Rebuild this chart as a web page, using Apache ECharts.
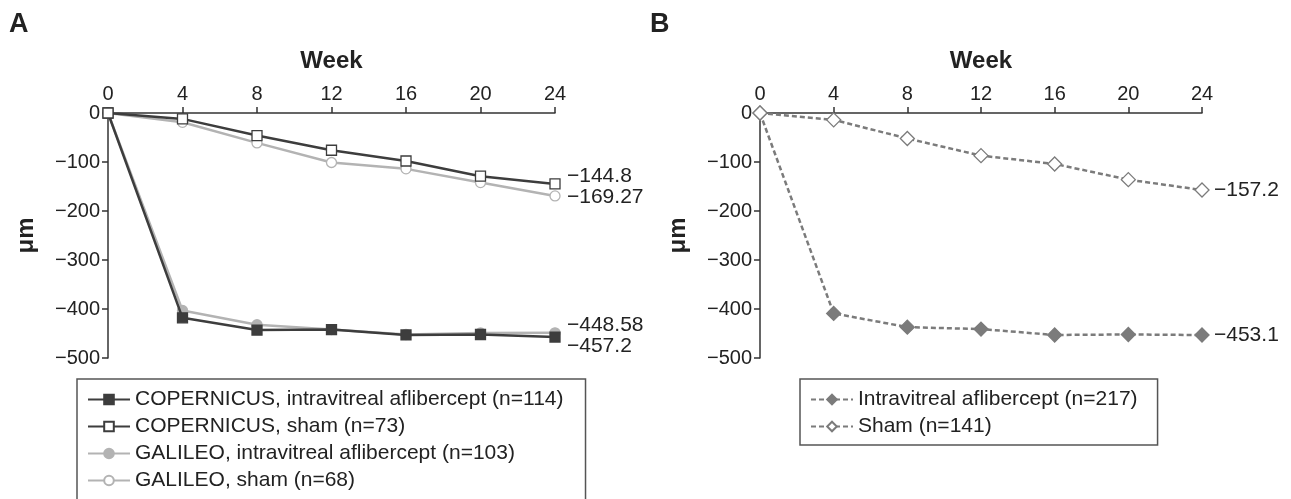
<!DOCTYPE html>
<html>
<head>
<meta charset="utf-8">
<script src="https://cdn.jsdelivr.net/npm/echarts@6/dist/echarts.min.js"></script>
<style>
html,body{margin:0;padding:0;background:#fff;}
#chart{width:1291px;height:499px;}
</style>
</head>
<body>
<div id="chart"></div>
<script>
// ---- data ----
const weeks = [0, 4, 8, 12, 16, 20, 24];
const xTicks = [0, 4, 8, 12, 16, 20, 24];
const yTicks = [0, -100, -200, -300, -400, -500];

const copAflibName = 'COPERNICUS, intravitreal aflibercept (n=114)';
const copShamName = 'COPERNICUS, sham (n=73)';
const galAflibName = 'GALILEO, intravitreal aflibercept (n=103)';
const galShamName = 'GALILEO, sham (n=68)';
const copAflib = [0, -418, -443, -442, -453, -452, -457.2];
const copSham = [0, -12, -46, -76, -98, -129, -144.8];
const galAflib = [0, -403, -432, -442, -452, -449, -448.58];
const galSham = [0, -19, -61, -101, -114, -142, -169.27];

const bAflibName = 'Intravitreal aflibercept (n=217)';
const bShamName = 'Sham (n=141)';
const bAflib = [0, -409, -437, -441, -453, -452, -453.1];
const bSham = [0, -14, -52, -87, -104, -136, -157.2];

// ---- helpers ----
const FONT = 'Liberation Sans, Arial, sans-serif';
const minus = v => String(v).replace('-', '\u2212');
const pts = arr => weeks.map((w, i) => [w, arr[i]]);
const DARK = '#3d3d3d', LIGHT = '#b3b3b3', MID = '#7b7b7b';

function xAx(gi) {
  return {
    gridIndex: gi, type: 'value', position: 'top', min: xTicks[0], max: xTicks[xTicks.length - 1], interval: 4,
    name: 'Week', nameLocation: 'middle', nameGap: 40,
    nameTextStyle: {fontFamily: FONT, fontSize: 24, fontWeight: 'bold', color: '#222'},
    axisLine: {show: true, onZero: false, lineStyle: {color: '#333', width: 1.5}},
    axisTick: {show: true, length: 6, lineStyle: {color: '#333', width: 1.5}},
    axisLabel: {fontFamily: FONT, fontSize: 20, color: '#222', margin: 9},
    splitLine: {show: false}
  };
}
function yAx(gi) {
  return {
    gridIndex: gi, type: 'value', min: yTicks[yTicks.length - 1], max: yTicks[0], interval: 100,
    name: '\u03bcm', nameLocation: 'middle', nameGap: 70, nameRotate: 90,
    nameTextStyle: {fontFamily: FONT, fontSize: 24, fontWeight: 'bold', color: '#222'},
    axisLine: {show: true, onZero: false, lineStyle: {color: '#333', width: 1.5}},
    axisTick: {show: true, length: 6, lineStyle: {color: '#333', width: 1.5}},
    axisLabel: {fontFamily: FONT, fontSize: 20, color: '#222', margin: 8, formatter: v => minus(v)},
    splitLine: {show: false}
  };
}
function ser(name, arr, gi, opts) {
  return {
    name, type: 'line', xAxisIndex: gi, yAxisIndex: gi, data: pts(arr),
    symbol: opts.symbol, symbolSize: opts.size || 10, showAllSymbol: true,
    lineStyle: {color: opts.line, width: 2.5, type: opts.dash || 'solid'},
    itemStyle: {color: opts.fill, borderColor: opts.border, borderWidth: 1.3},
    z: opts.z || 2,
    endLabel: {
      show: true, fontFamily: FONT, fontSize: 21, color: '#222', offset: opts.off || [4, 0],
      formatter: p => minus(p.value[1])
    },
    animation: false
  };
}

const chart = echarts.init(document.getElementById('chart'), null, {renderer: 'canvas'});
chart.setOption({
  animation: false,
  textStyle: {fontFamily: FONT},
  grid: [
    {left: 108, top: 113, width: 447, height: 245},
    {left: 760, top: 113, width: 442, height: 245}
  ],
  xAxis: [xAx(0), xAx(1)],
  yAxis: [yAx(0), yAx(1)],
  graphic: [
    {type: 'text', left: 9, top: 11, style: {text: 'A', font: 'bold 27px ' + FONT, fill: '#222'}},
    {type: 'text', left: 650, top: 11, style: {text: 'B', font: 'bold 27px ' + FONT, fill: '#222'}}
  ],
  legend: [
    {
      data: [copAflibName, copShamName, galAflibName, galShamName],
      orient: 'vertical', left: 77, top: 379, height: 200, itemWidth: 42, itemHeight: 12, itemGap: 6,
      padding: [10, 22, 20, 10], borderColor: '#555', borderWidth: 1.5,
      textStyle: {fontFamily: FONT, fontSize: 21, color: '#222'}
    },
    {
      data: [bAflibName, bShamName],
      orient: 'vertical', left: 800, top: 379, itemWidth: 42, itemHeight: 12, itemGap: 6,
      padding: [10, 20, 8, 10], borderColor: '#555', borderWidth: 1.5,
      textStyle: {fontFamily: FONT, fontSize: 21, color: '#222'}
    }
  ],
  series: [
    ser(copAflibName, copAflib, 0, {symbol: 'rect', line: DARK, fill: DARK, border: DARK, off: [4, 9], z: 3}),
    ser(copShamName, copSham, 0, {symbol: 'rect', line: DARK, fill: '#fff', border: DARK, off: [4, -8], z: 3}),
    ser(galAflibName, galAflib, 0, {symbol: 'circle', line: LIGHT, fill: LIGHT, border: LIGHT, off: [4, -8]}),
    ser(galShamName, galSham, 0, {symbol: 'circle', line: LIGHT, fill: '#fff', border: LIGHT, off: [4, 1]}),
    ser(bAflibName, bAflib, 1, {symbol: 'diamond', size: 14, line: MID, fill: MID, border: MID, dash: [5, 3]}),
    ser(bShamName, bSham, 1, {symbol: 'diamond', size: 14, line: MID, fill: '#fff', border: MID, dash: [5, 3]})
  ]
});
</script>
</body>
</html>
